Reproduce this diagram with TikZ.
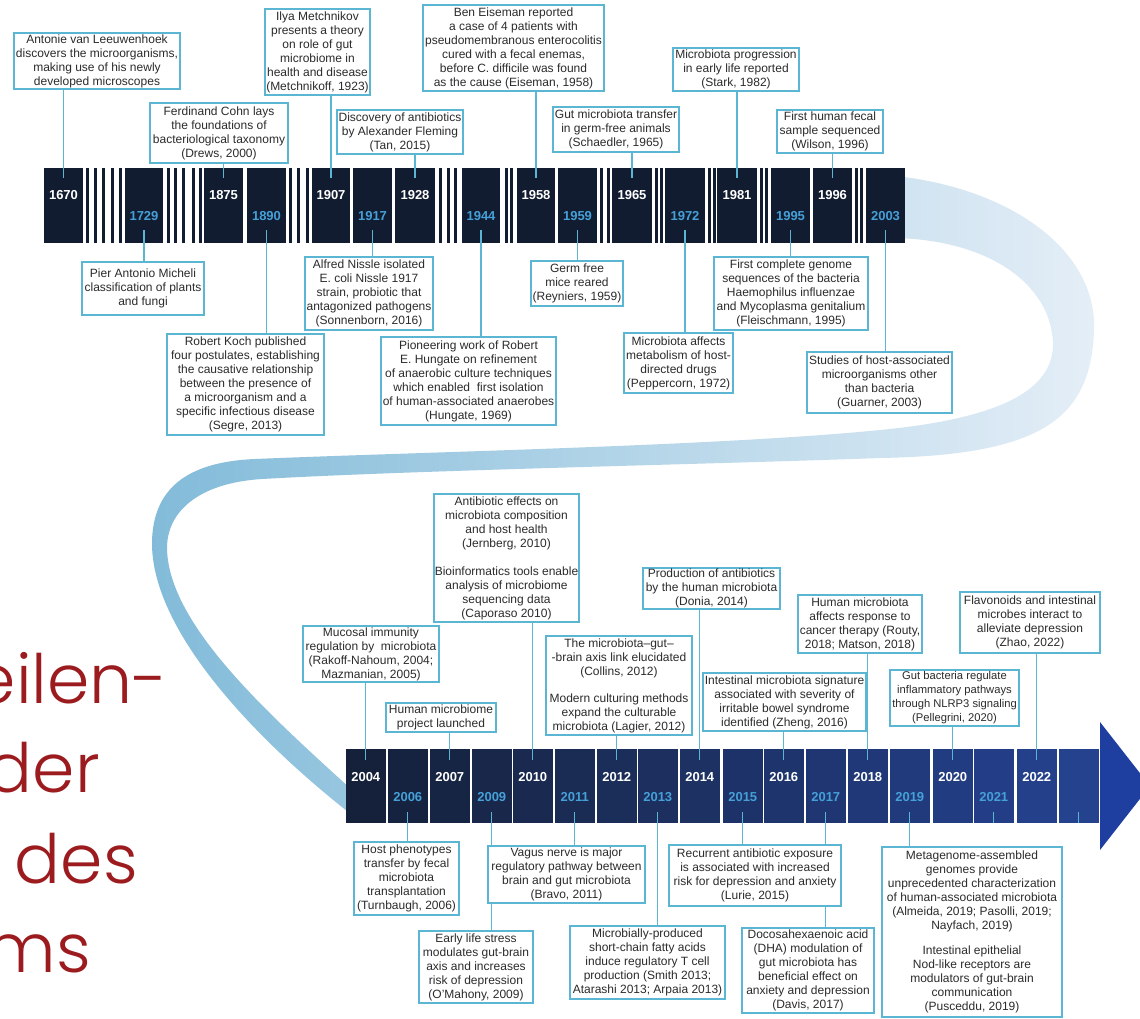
\documentclass[tikz,border=0pt]{standalone}
\usepackage{fontspec}
\setmainfont{Liberation Sans}
\IfFontExistsTF{Poppins Light}
  {\newfontfamily\slidefont{Poppins Light}}
  {\newfontfamily\slidefont{Poppins}}

\definecolor{boxc}{HTML}{5AB6D2}
\definecolor{txt}{HTML}{2B2B2B}
\definecolor{navy}{HTML}{121C30}
\definecolor{yrblue}{HTML}{45A0D8}
\definecolor{bnavy}{HTML}{15213B}
\definecolor{bblue}{HTML}{25428F}
\definecolor{arrowc}{HTML}{1F3FA0}
\definecolor{ribA}{HTML}{82BBD9}
\definecolor{ribB}{HTML}{A9D0E5}
\definecolor{ribC}{HTML}{E4EEF7}
\definecolor{slidered}{HTML}{9B1B1E}

\pgfdeclarelayer{base}
\pgfdeclarelayer{links}
\pgfsetlayers{base,links,main}

% event box given by its left, right, top and bottom edges
\newcommand\evbox[7][]{%
  \node[ev, minimum width={#4-#3}, minimum height={#6-#5}, #1] (#2) at ({(#3+#4)/2},{(#5+#6)/2}) {#7};}

\tikzset{
  ev/.style={draw=boxc, line width=1.1pt, fill=white, align=center, inner sep=0pt,
    text=txt, font=\fontsize{12}{14}\selectfont},
  conn/.style={draw=boxc, line width=1.1pt},
  blk/.style={inner sep=0pt, minimum height=75, fill=navy},
  yrw/.style={text=white, font=\fontsize{13}{13}\selectfont\bfseries, inner sep=0pt},
  yrb/.style={yrw, text=yrblue},
  slide/.style={text=slidered, font=\slidefont\fontsize{68}{80}\selectfont, inner sep=0pt, anchor=base east},
}

\begin{document}
\begin{tikzpicture}[x=1pt,y=-1pt]
\useasboundingbox (0,0) rectangle (1140,1018);

\begin{pgfonlayer}{base}
\fill[white] (0,0) rectangle (1140,1018);

% cropped heading text on the left
\node[slide] (h1) at (168,703) {eilen-};
\node[slide] (h2) at (100,792) {der};
\node[slide] (h3) at (138,883) {des};
\node[slide] (h4) at (91,972) {ms};

% ribbon joining the two time bars
\shade[left color=ribA, middle color=ribB, right color=ribC]
  (895,176) .. controls (1010,188) and (1097,250) .. (1094,330)
  .. controls (1091,420) and (1040,455) .. (880,458)
  .. controls (720,464) and (420,470) .. (262,479)
  .. controls (198,483) and (167,512) .. (167,548)
  .. controls (168,625) and (270,715) .. (352,790)
  -- (352,815)
  .. controls (250,735) and (151,628) .. (152,542)
  .. controls (153,490) and (185,462) .. (255,459)
  .. controls (420,452) and (720,446) .. (880,430)
  .. controls (1005,418) and (1054,388) .. (1053,343)
  .. controls (1051,285) and (990,240) .. (895,238) -- cycle;

% upper time bar
\foreach \a/\b/\yr in {44/83/1670, 125/163/1729, 204/243/1875, 247/286/1890,
    312/350/1907, 353/392/1917, 395/435/1928, 462/500/1944, 517/555/1958,
    558/597/1959, 612/652/1965, 665/705/1972, 717/757/1981, 771/810/1995,
    813/852/1996, 866/905/2003}
  \node[blk, minimum width={\b-\a}] (y\yr) at ({(\a+\b)/2},205.5) {};
\foreach \c in {87,95,103,112,120,168,175,183,193,200,290,298,307,440,448,455,
    506,511,601.5,608,656,661,709,714,761.5,766.5,856,861}
  \fill[navy] ({\c-1.5},168) rectangle ({\c+1.5},243);
\foreach \yr in {1670,1875,1907,1928,1958,1965,1981,1996}
  \node[yrw] at ([yshift=10.5pt]y\yr.center) {\yr};
\foreach \yr in {1729,1890,1917,1944,1959,1972,1995,2003}
  \node[yrb] at ([yshift=-11pt]y\yr.center) {\yr};

% lower time bar with arrow head
\foreach \a/\yr [count=\i from 0] in {346/2004, 388/2006, 430/2007, 472/2009,
    513/2010, 555/2011, 597/2012, 638/2013, 680/2014, 723/2015, 764/2016,
    806/2017, 848/2018, 890/2019, 933/2020, 974/2021, 1017/2022, 1059/end} {
  \pgfmathtruncatemacro\pct{100-\i*100/17}
  \node[blk, minimum width=39.5, minimum height=74, fill=bnavy!\pct!bblue]
    (y\yr) at ({\a+19.75},786) {};
}
\fill[arrowc] (1100,722) -- (1150,786) -- (1100,850) -- cycle;
\foreach \yr in {2004,2007,2010,2012,2014,2016,2018,2020,2022}
  \node[yrw] at ([yshift=9pt]y\yr.center) {\yr};
\foreach \yr in {2006,2009,2011,2013,2015,2017,2019,2021}
  \node[yrb] at ([yshift=-11.5pt]y\yr.center) {\yr};
\end{pgfonlayer}

% events above the upper bar
\evbox{A}{14}{180}{33}{89}{Antonie van Leeuwenhoek\\discovers the microorganisms,\\making use of his newly\\developed microscopes}
\evbox{B}{150}{288}{103}{163}{Ferdinand Cohn lays\\the foundations of\\bacteriological taxonomy\\(Drews, 2000)}
\evbox{C}{265}{370}{9}{95}{Ilya Metchnikov\\presents a theory\\on role of gut\\microbiome in\\health and disease\\(Metchnikoff, 1923)}
\evbox{D}{337}{463}{110}{154}{Discovery of antibiotics\\by Alexander Fleming\\(Tan, 2015)}
\evbox{E}{423}{604}{5}{91}{Ben Eiseman reported\\a case of 4 patients with\\pseudomembranous enterocolitis\\cured with a fecal enemas,\\before C. difficile was found\\as the cause (Eiseman, 1958)}
\evbox{F}{553}{679}{107}{152}{Gut microbiota transfer\\in germ-free animals\\(Schaedler, 1965)}
\evbox{G}{673}{799}{48}{91}{Microbiota progression\\in early life reported\\(Stark, 1982)}
\evbox{H}{777}{883}{110}{153}{First human fecal\\sample sequenced\\(Wilson, 1996)}

% events below the upper bar
\evbox{I}{82}{204}{262}{315}{Pier Antonio Micheli\\classification of plants\\and fungi}
\evbox{J}{167}{324}{334}{435}{Robert Koch published\\four postulates, establishing\\the causative relationship\\between the presence of\\a microorganism and a\\specific infectious disease\\(Segre, 2013)}
\evbox{K}{305}{433}{257}{330}{Alfred Nissle isolated\\E. coli Nissle 1917\\strain, probiotic that\\antagonized pathogens\\(Sonnenborn, 2016)}
\evbox{L}{381}{556}{337}{425}{Pioneering work of Robert\\E. Hungate on refinement\\of anaerobic culture techniques\\which enabled\ \ first isolation\\of human-associated anaerobes\\(Hungate, 1969)}
\evbox{M}{531}{623}{261}{306}{Germ free\\mice reared\\(Reyniers, 1959)}
\evbox{N}{624}{733}{333}{393}{Microbiota affects\\metabolism of host-\\directed drugs\\(Peppercorn, 1972)}
\evbox{O}{714}{868}{257}{330}{First complete genome\\sequences of the bacteria\\Haemophilus influenzae\\and Mycoplasma genitalium\\(Fleischmann, 1995)}
\evbox{P}{807}{952}{352}{413}{Studies of host-associated\\microorganisms other\\than bacteria\\(Guarner, 2003)}

% events above the lower bar
\evbox{Q}{434}{579}{494}{622}{Antibiotic effects on\\microbiota composition\\and host health\\(Jernberg, 2010)\\[14pt]Bioinformatics tools enable\\analysis of microbiome\\sequencing data\\(Caporaso 2010)}
\evbox{R}{303}{439}{626}{682}{Mucosal immunity\\regulation by\ \ microbiota\\(Rakoff-Nahoum, 2004;\\Mazmanian, 2005)}
\evbox{S}{386}{496}{703}{732}{Human microbiome\\project launched}
\evbox{T}{546}{692}{636}{735}{The microbiota--gut--\\-brain axis link elucidated\\(Collins, 2012)\\[13pt]Modern culturing methods\\expand the culturable\\microbiota (Lagier, 2012)}
\evbox{U}{643}{780}{568}{609}{Production of antibiotics\\by the human microbiota\\(Donia, 2014)}
\evbox{V}{703}{866}{673}{731}{Intestinal microbiota signature\\associated with severity of\\irritable bowel syndrome\\identified (Zheng, 2016)}
\evbox{W}{798}{922}{595}{653}{Human microbiota\\affects response to\\cancer therapy (Routy,\\2018; Matson, 2018)}
\evbox[font=\fontsize{11.2}{14}\selectfont]{X}{890}{1019}{670}{726}{Gut bacteria regulate\\inflammatory pathways\\through NLRP3 signaling\\(Pellegrini, 2020)}
\evbox{Y}{960}{1100}{592}{653}{Flavonoids and intestinal\\microbes interact to\\alleviate depression\\(Zhao, 2022)}

% events below the lower bar
\evbox{Z1}{354}{459}{842}{915}{Host phenotypes\\transfer by fecal\\microbiota\\transplantation\\(Turnbaugh, 2006)}
\evbox{Z2}{488}{645}{846}{903}{Vagus nerve is major\\regulatory pathway between\\brain and gut microbiota\\(Bravo, 2011)}
\evbox{Z3}{419}{533}{931}{1003}{Early life stress\\modulates gut-brain\\axis and increases\\risk of depression\\(O’Mahony, 2009)}
\evbox{Z4}{570}{725}{926}{999}{Microbially-produced\\short-chain fatty acids\\induce regulatory T cell\\production (Smith 2013;\\Atarashi 2013; Arpaia 2013)}
\evbox{Z5}{669}{841}{845}{906}{Recurrent antibiotic exposure\\is associated with increased\\risk for depression and anxiety\\(Lurie, 2015)}
\evbox{Z6}{742}{874}{928}{1013}{Docosahexaenoic acid\\(DHA) modulation of\\gut microbiota has\\beneficial effect on\\anxiety and depression\\(Davis, 2017)}
\evbox{Z7}{882}{1062}{847}{1017}{Metagenome-assembled\\genomes provide\\unprecedented characterization\\of human-associated microbiota\\(Almeida, 2019; Pasolli, 2019;\\Nayfach, 2019)\\[11pt]Intestinal epithelial\\Nod-like receptors are\\modulators of gut-brain\\communication\\(Pusceddu, 2019)}

% connectors
\begin{pgfonlayer}{links}
\foreach \b/\y in {A/1670, B/1875, C/1907, D/1928, E/1958, F/1965, G/1981, H/1996}
  \draw[conn] (\b.south -| y\y.north) -- ([yshift=-10pt]y\y.north);
\foreach \y/\b in {1729/I, 1890/J, 1917/K, 1944/L, 1959/M, 1972/N, 1995/O, 2003/P}
  \draw[conn] ([yshift=13pt]y\y.south) -- (y\y.south |- \b.north);
\foreach \b/\y in {R/2004, S/2007, Q/2010, T/2012, U/2014, V/2016, W/2018, X/2020, Y/2022}
  \draw[conn] (\b.south -| y\y.north) -- ([yshift=-11pt]y\y.north);
\foreach \y/\b in {2006/Z1, 2009/Z3, 2011/Z2, 2013/Z4, 2015/Z5, 2017/Z6, 2019/Z7}
  \draw[conn] ([yshift=11pt]y\y.south) -- (y\y.south |- \b.north);
\foreach \y in {2021,end}
  \draw[conn] ([yshift=11pt]y\y.south) -- (y\y.south);
\end{pgfonlayer}
\end{tikzpicture}
\end{document}
